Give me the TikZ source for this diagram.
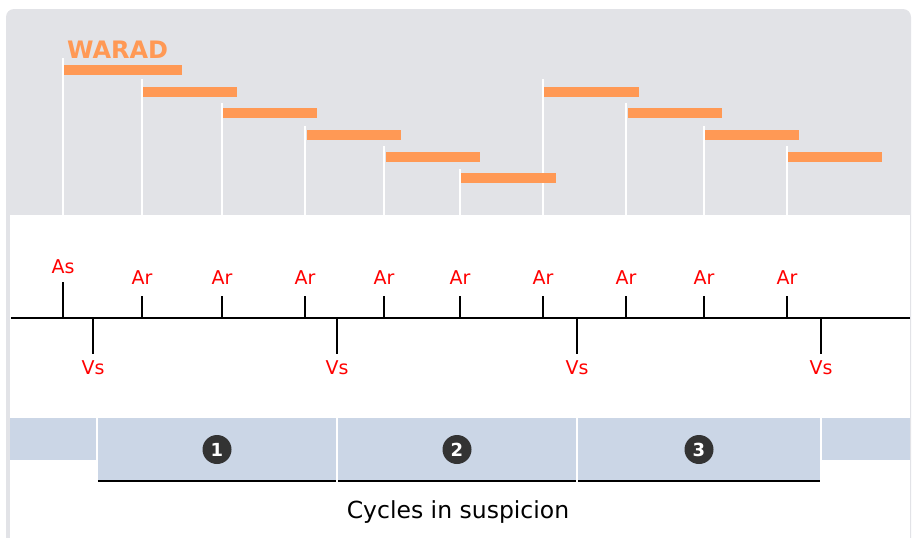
\documentclass[tikz,border=0pt]{standalone}
\usepackage{fontspec}
\setmainfont{DejaVu Sans}

\definecolor{Frame}{HTML}{E2E3E7}
\definecolor{Orange}{HTML}{FF9955}
\definecolor{Band}{HTML}{CBD6E6}
\definecolor{Dark}{HTML}{333333}
\tikzstyle{Bar} = [fill=Orange, 
                   rectangle, 
                   inner sep=0pt, anchor=west,
                   minimum height=10pt, minimum width=94pt]
\tikzstyle{Drop} = [draw=white, line width=2pt]
\tikzstyle{Tick} = [draw=black, line width=2pt]
\tikzstyle{Lbl} = [text=red, inner sep=0pt, font=\fontsize{19}{21}\selectfont]
\tikzstyle{Cycle} = [fill=Band, rectangle, inner sep=0pt]
\tikzstyle{Num} = [fill=Dark, circle, text=white, inner sep=0pt,
                   minimum size=29pt, font=\fontsize{18}{18}\selectfont\bfseries]

\begin{document}
\begin{tikzpicture}[x=1pt, y=-1pt]

	\useasboundingbox (0,0) rectangle (913,538);
	\fill[Frame, rounded corners=8pt] (6,9) rectangle (911,570);
	\fill[white] (10,215) rectangle (910,570);

	\node(warad) at (67,58) [anchor=base west, inner sep=0pt, text=Orange, font=\fontsize{24}{24}\selectfont\bfseries]{WARAD};

	% Drop lines
	\draw [Drop] (63,58) -- (63,215);
	\draw [Drop] (142,79) -- (142,215);
	\draw [Drop] (222,103) -- (222,215);
	\draw [Drop] (305,126) -- (305,215);
	\draw [Drop] (384,146) -- (384,215);
	\draw [Drop] (460,169) -- (460,215);
	\draw [Drop] (543,79) -- (543,215);
	\draw [Drop] (626,103) -- (626,215);
	\draw [Drop] (704,126) -- (704,215);
	\draw [Drop] (787,146) -- (787,215);

	% Bar nodes
	\node(w1) at (64,70) [Bar, minimum width=118pt]{};
	\node(w2) at (143,92) [Bar]{};
	\node(w3) at (223,113) [Bar]{};
	\node(w4) at (307,135) [Bar]{};
	\node(w5) at (386,157) [Bar]{};
	\node(w6) at (461,178) [Bar, minimum width=95pt]{};
	\node(w7) at (544,92) [Bar, minimum width=95pt]{};
	\node(w8) at (628,113) [Bar]{};
	\node(w9) at (705,135) [Bar]{};
	\node(w10) at (788,157) [Bar]{};

	% Time line
	\draw [Tick] (11,318) -- (910,318);
	\draw [Tick] (63,282) -- (63,318);
	\draw [Tick] (142,296) -- (142,318);
	\draw [Tick] (222,296) -- (222,318);
	\draw [Tick] (305,296) -- (305,318);
	\draw [Tick] (384,296) -- (384,318);
	\draw [Tick] (460,296) -- (460,318);
	\draw [Tick] (543,296) -- (543,318);
	\draw [Tick] (626,296) -- (626,318);
	\draw [Tick] (704,296) -- (704,318);
	\draw [Tick] (787,296) -- (787,318);
	\draw [Tick] (93,318) -- (93,354);
	\draw [Tick] (337,318) -- (337,354);
	\draw [Tick] (577,318) -- (577,354);
	\draw [Tick] (821,318) -- (821,354);

	% Labels
	\node(as) at (63,267) [Lbl]{As};
	\node(ar1) at (142,278) [Lbl]{Ar};
	\node(ar2) at (222,278) [Lbl]{Ar};
	\node(ar3) at (305,278) [Lbl]{Ar};
	\node(ar4) at (384,278) [Lbl]{Ar};
	\node(ar5) at (460,278) [Lbl]{Ar};
	\node(ar6) at (543,278) [Lbl]{Ar};
	\node(ar7) at (626,278) [Lbl]{Ar};
	\node(ar8) at (704,278) [Lbl]{Ar};
	\node(ar9) at (787,278) [Lbl]{Ar};
	\node(vs1) at (93,368) [Lbl]{Vs};
	\node(vs2) at (337,368) [Lbl]{Vs};
	\node(vs3) at (577,368) [Lbl]{Vs};
	\node(vs4) at (821,368) [Lbl]{Vs};

	% Cycle nodes
	\node(head) at (53,439) [Cycle, minimum width=86pt, minimum height=42pt]{};
	\node(cyc1) at (217,449.5) [Cycle, minimum width=238pt, minimum height=63pt]{};
	\node(cyc2) at (457,449.5) [Cycle, minimum width=238pt, minimum height=63pt]{};
	\node(cyc3) at (699,449.5) [Cycle, minimum width=242pt, minimum height=63pt]{};
	\node(tail) at (866,439) [Cycle, minimum width=88pt, minimum height=42pt]{};
	\node(n1) at (cyc1) [Num]{1};
	\node(n2) at (cyc2) [Num]{2};
	\node(n3) at (cyc3) [Num]{3};

	% Lines
	\draw [Tick] (cyc1.south west) -- (cyc1.south east);
	\draw [Tick] (cyc2.south west) -- (cyc2.south east);
	\draw [Tick] (cyc3.south west) -- (cyc3.south east);

	\node(caption) at (458,518) [anchor=base, inner sep=0pt, font=\fontsize{23.5}{25}\selectfont]{Cycles in suspicion};

\end{tikzpicture}
\end{document}
